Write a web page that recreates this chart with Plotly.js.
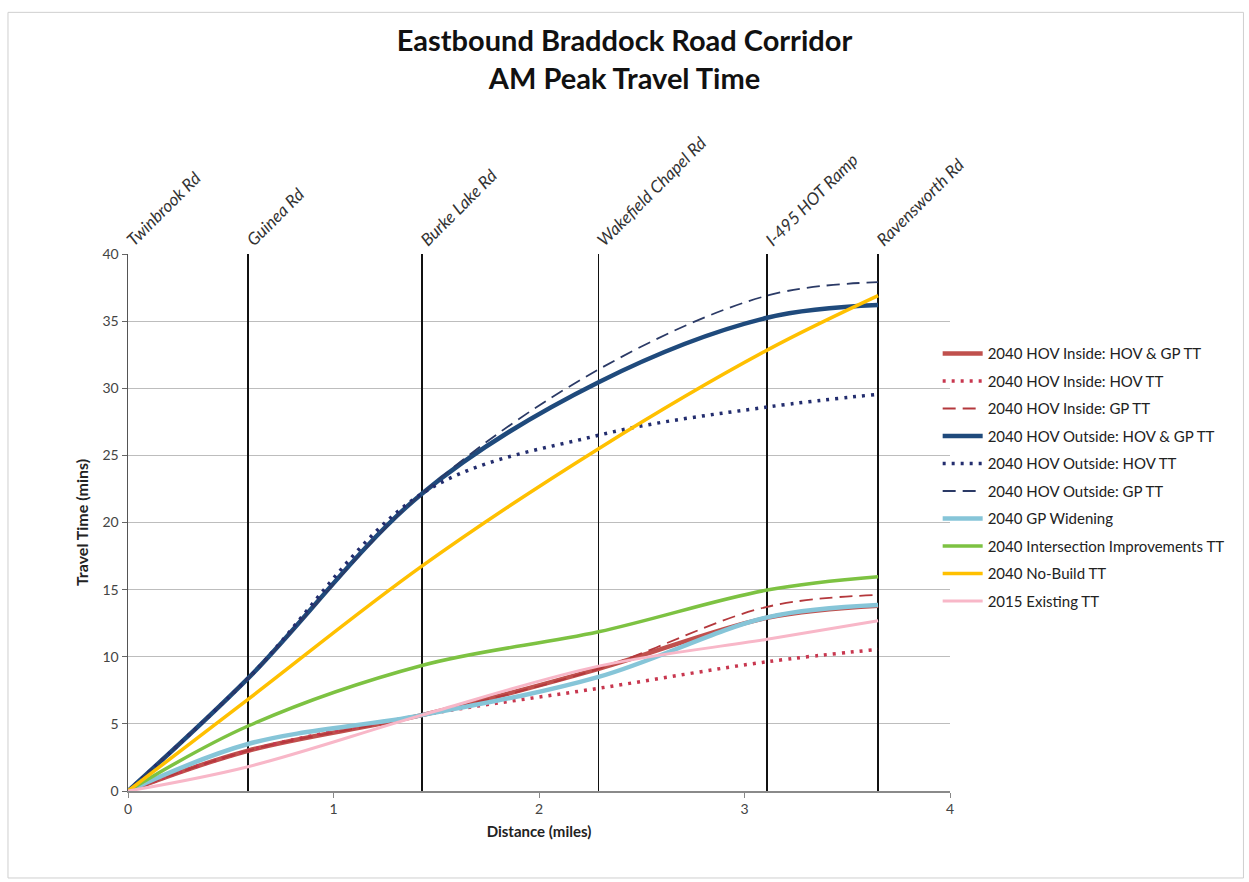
<!DOCTYPE html>
<html>
<head>
<meta charset="utf-8">
<script src="https://cdn.plot.ly/plotly-3.0.1.min.js"></script>
<style>
  html, body { margin: 0; padding: 0; background: #fff; }
  #chart { width: 1249px; height: 882px; }
</style>
</head>
<body>
<div id="chart"></div>
<script>
// ---- Data ----
const roadPos = [0, 0.584, 1.43, 2.29, 3.11, 3.65];
const roadNames = ['Twinbrook Rd', 'Guinea Rd', 'Burke Lake Rd', 'Wakefield Chapel Rd', 'I-495 HOT Ramp', 'Ravensworth Rd'];

const distance = [0, 0.584, 1.43, 2.29, 3.11, 3.65];

const hovInsideBoth  = [0, 3.0, 5.65, 9.1, 12.9, 13.8];
const hovInsideHov   = [0, 3.0, 5.65, 7.65, 9.63, 10.55];
const hovInsideGp    = [0, 3.0, 5.65, 9.1, 13.72, 14.6];
const hovOutsideBoth = [0, 8.39, 22.15, 30.45, 35.25, 36.2];
const hovOutsideHov  = [0, 8.39, 22.15, 26.5, 28.6, 29.55];
const hovOutsideGp   = [0, 8.39, 22.15, 31.4, 36.9, 37.9];
const gpWidening     = [0, 3.5, 5.65, 8.5, 12.93, 13.85];
const intersection   = [0, 4.84, 9.35, 11.86, 14.97, 15.96];
const noBuild        = [0, 6.83, 16.75, 25.5, 32.84, 36.9];
const existing2015   = [0, 1.81, 5.65, 9.3, 11.3, 12.68];

const seriesNames = [
  '2040 HOV Inside: HOV & GP TT',
  '2040 HOV Inside: HOV TT',
  '2040 HOV Inside: GP TT',
  '2040 HOV Outside: HOV & GP TT',
  '2040 HOV Outside: HOV TT',
  '2040 HOV Outside: GP TT',
  '2040 GP Widening',
  '2040 Intersection Improvements TT',
  '2040 No-Build TT',
  '2015 Existing TT'
];
const seriesValues = [hovInsideBoth, hovInsideHov, hovInsideGp, hovOutsideBoth, hovOutsideHov,
                      hovOutsideGp, gpWidening, intersection, noBuild, existing2015];

// ---- Styles ----
const styles = [
  {color: '#c0504d', width: 4.5, dash: 'solid'},
  {color: '#c8374f', width: 3.5, dash: '3px,6px'},
  {color: '#b4383c', width: 1.8, dash: '13px,7px'},
  {color: '#1f4a7c', width: 4.5, dash: 'solid'},
  {color: '#232d6e', width: 3.5, dash: '3px,6px'},
  {color: '#2b3a66', width: 1.8, dash: '13px,7px'},
  {color: '#86c5d8', width: 4.5, dash: 'solid'},
  {color: '#7dc242', width: 3.5, dash: 'solid'},
  {color: '#ffc000', width: 3.5, dash: 'solid'},
  {color: '#f8b7c8', width: 3, dash: 'solid'}
];

const traces = seriesNames.map((name, i) => ({
  type: 'scatter',
  mode: 'lines',
  name: name,
  legendgroup: 'g' + i,
  x: distance,
  y: seriesValues[i],
  line: {color: styles[i].color, width: styles[i].width, dash: styles[i].dash, shape: 'spline', smoothing: 1},
  hoverinfo: 'x+y+name'
}));

// invisible trace on the top axis carrying the road locations
traces.push({
  type: 'scatter', mode: 'markers', x: roadPos, y: roadPos.map(() => null),
  xaxis: 'x2', yaxis: 'y', showlegend: false, hoverinfo: 'skip',
  marker: {opacity: 0}
});

const FONT = 'Lato, "Open Sans", sans-serif';

const layout = {
  width: 1249,
  height: 882,
  paper_bgcolor: '#ffffff',
  plot_bgcolor: '#ffffff',
  font: {family: FONT, color: '#222', size: 13},
  margin: {l: 128, r: 299, t: 254, b: 91},
  title: {
    text: '<b>Eastbound Braddock Road Corridor<br>AM Peak Travel Time</b>',
    font: {family: FONT, size: 29, color: '#111'},
    x: 0.5, xanchor: 'center', xref: 'container',
    y: 0.942, yanchor: 'top', yref: 'container'
  },
  xaxis: {
    range: [0, 4],
    tickvals: [0, 1, 2, 3, 4],
    ticks: 'outside', ticklen: 5, tickcolor: '#888', tickwidth: 1,
    showgrid: false, zeroline: false,
    showline: true, linecolor: '#8a8a8a', linewidth: 1.5,
    tickfont: {size: 14, color: '#444'},
    title: {text: '<b>Distance (miles)</b>', font: {size: 15, color: '#222'}, standoff: 10}
  },
  xaxis2: {
    overlaying: 'x', side: 'top', anchor: 'y',
    range: [0, 4],
    tickvals: roadPos,
    ticktext: roadNames.map(n => '<i>' + n + '</i>'),
    tickangle: -45,
    ticks: '', ticklen: 0,
    showgrid: true, gridcolor: '#111', gridwidth: 1.5,
    zeroline: false, showline: false,
    tickfont: {size: 17, color: '#333'}
  },
  yaxis: {
    range: [0, 40],
    tickvals: [0, 5, 10, 15, 20, 25, 30, 35, 40],
    ticks: 'outside', ticklen: 5, tickcolor: '#666', tickwidth: 1,
    showgrid: true, gridcolor: '#bdbdbd', gridwidth: 1.2,
    zeroline: false,
    showline: true, linecolor: '#555', linewidth: 1.5,
    tickfont: {size: 14, color: '#444'},
    title: {text: '<b>Travel Time (mins)</b>', font: {size: 16, color: '#222'}, standoff: 10}
  },
  legend: {
    x: 0.985, xanchor: 'left',
    y: 0.845, yanchor: 'top',
    traceorder: 'grouped',
    tracegroupgap: 5,
    font: {family: FONT, size: 15, color: '#222'},
    bgcolor: 'rgba(0,0,0,0)',
    itemwidth: 40
  },
  shapes: [{
    type: 'rect', xref: 'paper', yref: 'paper',
    x0: -0.146, x1: 1.357, y0: -0.162, y1: 1.45,
    line: {color: '#cfcfcf', width: 1}, fillcolor: 'rgba(0,0,0,0)', layer: 'below'
  }],
  showlegend: true
};

Plotly.newPlot('chart', traces, layout, {displayModeBar: false, staticPlot: true});
</script>
</body>
</html>
